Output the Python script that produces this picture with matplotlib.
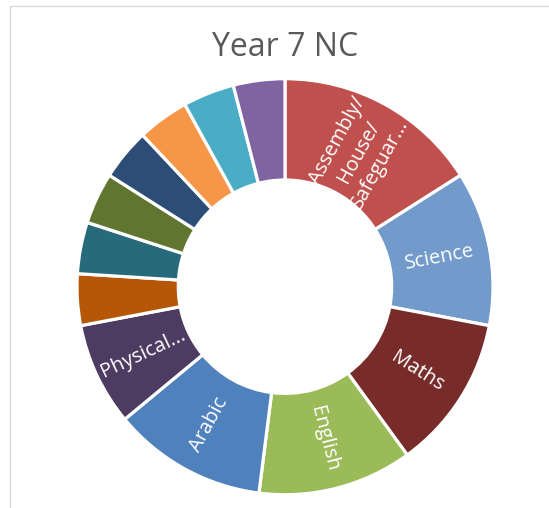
import numpy as np
import matplotlib
matplotlib.use("Agg")
import matplotlib.pyplot as plt
from matplotlib.patches import Rectangle

# Year 7 NC - periods per subject (small slices have no visible label)
labels = ["Assembly/\nHouse/\nSafeguar...", "Science", "Maths", "English",
          "Arabic", "Physical...", "", "", "", "", "", "", ""]
periods = [4, 3, 3, 3, 3, 2, 1, 1, 1, 1, 1, 1, 1]
colors = ["#C0504D", "#729ACA", "#772C2A", "#9BBB59", "#4F81BD", "#4D3B62",
          "#B65708", "#276A7C", "#5F7530", "#2C4D75", "#F79646", "#4BACC6",
          "#8064A2"]

plt.rcParams['font.family'] = ['Open Sans', 'DejaVu Sans']

W, H = 549, 508
fig = plt.figure(figsize=(W / 100, H / 100), dpi=100)
fig.patch.set_facecolor("white")

# chart area border (cropped at right/bottom)
fig.add_artist(Rectangle((10 / W, -0.1), 1.2, 1 - 6 / H + 0.1,
                         transform=fig.transFigure, fill=False,
                         edgecolor="#D9D9D9", linewidth=1))

# donut centred at (285, 287) px, outer radius 208 px
cx, cy, R = 285, H - 286.7, 208
ax = fig.add_axes([(cx - R) / W, (cy - R) / H, 2 * R / W, 2 * R / H])
ax.axis('off')

hole = 0.513
wedges, _ = ax.pie(periods, colors=colors, startangle=90, counterclock=False,
                   radius=1, wedgeprops=dict(width=1 - hole, edgecolor="white",
                                             linewidth=2.3))
ax.set_xlim(-1, 1)
ax.set_ylim(-1, 1)

rmid = (1 + hole) / 2
for w, lab in zip(wedges, labels):
    if not lab:
        continue
    mid = (w.theta1 + w.theta2) / 2
    m = (mid + 360) % 360
    rot = m
    if 90 < m < 270:
        rot = m - 180
    elif m >= 270:
        rot = m - 360
    r = rmid - 0.02 if "\n" in lab else rmid
    x = r * np.cos(np.radians(mid))
    y = r * np.sin(np.radians(mid))
    ax.text(x, y, lab, color="white", fontsize=14.5, ha="center", va="center",
            rotation=rot, rotation_mode="anchor", linespacing=1.25)

fig.text(cx / W, 1 - 56 / H, "Year 7 NC", ha="center", va="baseline",
         fontsize=23, color="#595959")

fig.savefig("out.png", dpi=100)
